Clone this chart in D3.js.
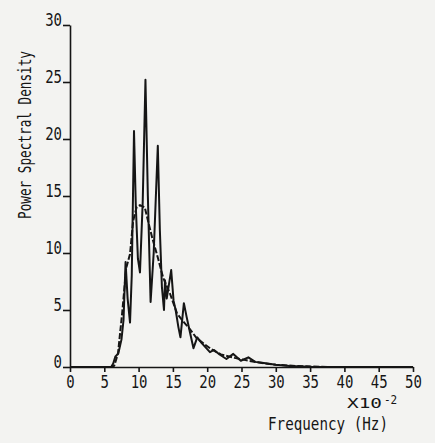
<!DOCTYPE html>
<html lang="en">
  <head>
    <title>Power Spectral Density</title>
    <script src="https://cdn.jsdelivr.net/npm/d3@7"></script>
    <style>
      body { margin: 0; background: #f3f3f1; }
      text { font-family: 'DejaVu Sans Mono', monospace; fill: #151515; }
    </style>
  </head>
  <body>
    <div id='chart'></div>

    <script type='text/javascript'>
      // frequency in units of 1e-2 Hz
      let freq_raw = [0, 6.0, 6.3, 6.6, 7.05, 7.5, 7.8, 8.1, 8.4, 8.75, 9.0, 9.33, 9.6, 9.9, 10.2,
                      10.6, 11.0, 11.35, 11.75, 12.2, 12.8, 13.1, 13.4, 13.7, 13.85, 14.1, 14.75,
                      15.1, 15.4, 15.8, 16.1, 16.6, 17.0, 17.5, 18.0, 18.55, 19.2, 20.4, 21.0,
                      21.8, 22.8, 23.8, 24.9, 26.0, 27.0, 28.0, 30.0, 32.0, 35.0, 50.0];
      let psd_raw  = [0, 0, 0.3, 0.9, 1.2, 2.4, 4.1, 9.2, 6.0, 3.9, 8.0, 20.7, 14.0, 9.5, 8.3,
                      14.5, 25.2, 15.0, 5.7, 10.0, 19.4, 12.0, 7.0, 5.0, 7.6, 6.0, 8.5,
                      5.8, 5.0, 3.5, 2.6, 5.6, 4.4, 3.0, 1.65, 2.6, 2.1, 1.3, 1.5,
                      1.1, 0.7, 1.15, 0.55, 0.85, 0.45, 0.37, 0.2, 0.08, 0.03, 0];

      let freq_smooth = [0, 6.3, 6.5, 7.0, 7.6, 8.2, 8.75, 9.2, 9.7, 10.2, 10.9, 11.5, 12.0, 12.8,
                         13.6, 14.6, 15.6, 16.5, 17.5, 18.5, 19.4, 20.5, 22.0, 24.0, 26.0, 28.0,
                         30.0, 33.0, 38.0, 50.0];
      let psd_smooth  = [0, 0, 0.2, 1.2, 4.7, 8.7, 9.9, 12.8, 14.0, 14.2, 14.0, 12.5, 11.3, 9.6,
                         7.8, 6.4, 4.7, 4.0, 3.3, 2.5, 2.1, 1.6, 1.1, 0.8, 0.55, 0.35,
                         0.2, 0.08, 0, 0];

      let x_ticks = [0, 5, 10, 15, 20, 25, 30, 35, 40, 45, 50];
      let y_ticks = [0, 5, 10, 15, 20, 25, 30];

      let width = 435;
      let height = 443;
      let canvas = d3.select('#chart').append('svg')
        .attr('width', width)
        .attr('height', height)

      let scale_x = d3.scaleLinear()
          .domain([0, 50])
          .range([70, 413])
      let scale_y = d3.scaleLinear()
          .domain([0, 30])
          .range([367, 25])

      // axes
      let x_axis = canvas.append('g')
        .attr('transform', 'translate(0,' + scale_y(0) + ')')
        .call(d3.axisBottom(scale_x).tickValues(x_ticks).tickSize(5).tickSizeOuter(0))
      let y_axis = canvas.append('g')
        .attr('transform', 'translate(' + scale_x(0) + ',0)')
        .call(d3.axisLeft(scale_y).tickValues(y_ticks).tickSize(7).tickSizeOuter(0))

      canvas.selectAll('.domain, .tick line')
        .attr('stroke', '#151515')
        .attr('stroke-width', 1.6)

      x_axis.selectAll('text')
        .attr('y', 17.5)
        .attr('dy', 0)
        .attr('font-size', '14px')
        .attr('transform', 'scale(1,1.2)')
        .attr('fill', '#151515')
      y_axis.selectAll('text')
        .attr('x', -8)
        .attr('dy', '0.05em')
        .attr('font-size', '14px')
        .attr('transform', 'scale(1,1.2)')
        .attr('fill', '#151515')

      // curves
      let line = d3.line()
        .x((d) => scale_x(d[0]))
        .y((d) => scale_y(d[1]))

      canvas.append('path')
        .datum(d3.zip(freq_smooth, psd_smooth))
        .attr('d', line)
        .attr('fill', 'none')
        .attr('stroke', '#151515')
        .attr('stroke-width', 2)
        .attr('stroke-dasharray', '6,2')

      canvas.append('path')
        .datum(d3.zip(freq_raw, psd_raw))
        .attr('d', line)
        .attr('fill', 'none')
        .attr('stroke', '#151515')
        .attr('stroke-width', 2)
        .attr('stroke-linejoin', 'round')

      // labels
      canvas.append('text')
        .attr('transform', 'translate(31,135) rotate(-90) scale(1,1.3)')
        .attr('text-anchor', 'middle')
        .attr('font-size', '13px')
        .attr('textLength', 168)
        .attr('lengthAdjust', 'spacingAndGlyphs')
        .text('Power Spectral Density')

      // multiplier X10^-2
      canvas.append('text')
        .attr('transform', 'translate(347,408) scale(1,1.15)')
        .attr('font-size', '13px')
        .attr('textLength', 35)
        .attr('lengthAdjust', 'spacingAndGlyphs')
        .text('X10')
      canvas.append('text')
        .attr('transform', 'translate(384,403.5) scale(1,1.1)')
        .attr('font-size', '11px')
        .text('-2')

      canvas.append('text')
        .attr('transform', 'translate(268,430) scale(1,1.2)')
        .attr('font-size', '14px')
        .attr('textLength', 120)
        .attr('lengthAdjust', 'spacingAndGlyphs')
        .text('Frequency (Hz)')
    </script>
  </body>
</html>
